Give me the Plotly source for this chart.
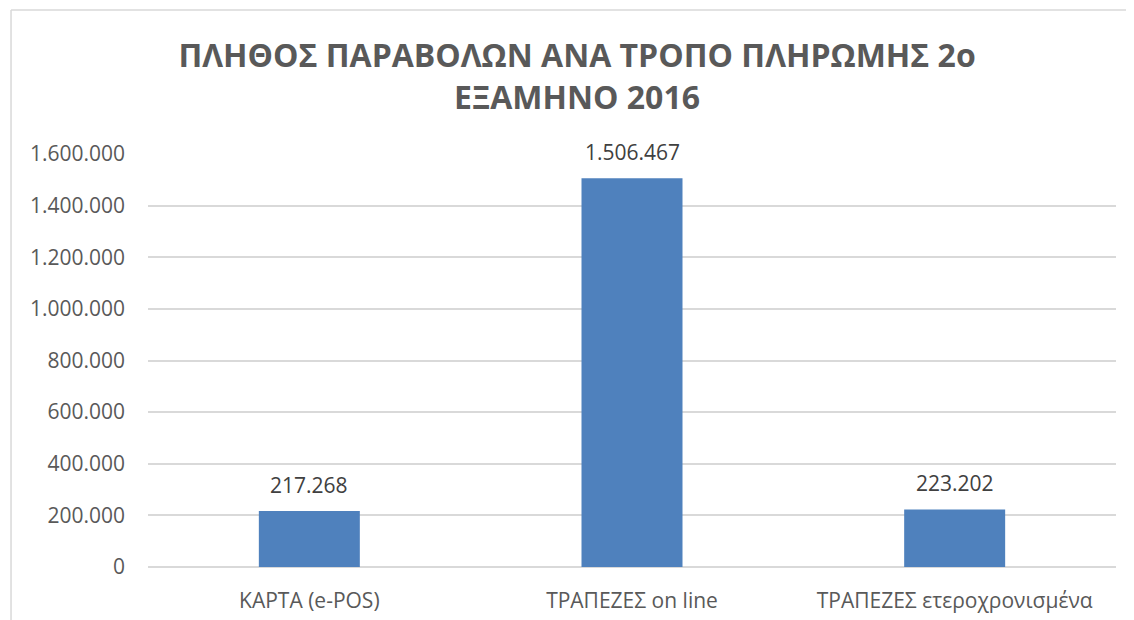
import plotly.graph_objects as go

categories = ["ΚΑΡΤΑ (e-POS)", "ΤΡΑΠΕΖΕΣ on line", "ΤΡΑΠΕΖΕΣ ετεροχρονισμένα"]
values = [217268, 1506467, 223202]
tick_vals = [0, 200000, 400000, 600000, 800000, 1000000, 1200000, 1400000, 1600000]
title_text = "ΠΛΗΘΟΣ ΠΑΡΑΒΟΛΩΝ ΑΝΑ ΤΡΟΠΟ ΠΛΗΡΩΜΗΣ 2ο<br>ΕΞΑΜΗΝΟ 2016"

labels = [f"{v:,}".replace(",", ".") for v in values]
tick_text = [f"{v:,}".replace(",", ".") for v in tick_vals]

font_family = "Open Sans, Noto Sans, sans-serif"

fig = go.Figure(go.Bar(
    x=categories, y=values,
    marker=dict(color="#4F81BD", line=dict(width=0)),
))

for c, v, t in zip(categories, values, labels):
    fig.add_annotation(x=c, y=v, text=t, showarrow=False, yanchor="bottom", yshift=10,
                       font=dict(size=21, color="#404040", family=font_family))

fig.update_layout(
    width=1118, height=612,
    margin=dict(l=140, r=10, t=146, b=53),
    paper_bgcolor="white", plot_bgcolor="white",
    bargap=0.687,
    showlegend=False,
    title=dict(text=title_text, x=0.509, xanchor="center", y=0.903, yanchor="top",
               font=dict(size=32, color="#595959", family=font_family, weight="bold")),
    font=dict(family=font_family, color="#595959", size=21),
    xaxis=dict(showline=False, showgrid=False, ticks="", ticklabelstandoff=19, automargin=False,
               tickfont=dict(size=21, color="#595959")),
    yaxis=dict(range=[0, 1600000], tickvals=tick_vals, ticktext=tick_text, automargin=False,
               showgrid=True, gridcolor="#d9d9d9", gridwidth=1.5,
               zeroline=True, zerolinecolor="#d9d9d9", zerolinewidth=1.5,
               showline=False, ticks="", ticklabelstandoff=22,
               tickfont=dict(size=21, color="#595959")),
    shapes=[
        dict(type="line", xref="paper", yref="paper", x0=-0.1415, x1=1.05, y0=1.3487, y1=1.3487,
             line=dict(color="#d9d9d9", width=1.5)),
        dict(type="line", xref="paper", yref="paper", x0=-0.1415, x1=-0.1415, y0=-0.2, y1=1.3487,
             line=dict(color="#d9d9d9", width=1.5)),
    ],
)

fig.write_html("out.html")
